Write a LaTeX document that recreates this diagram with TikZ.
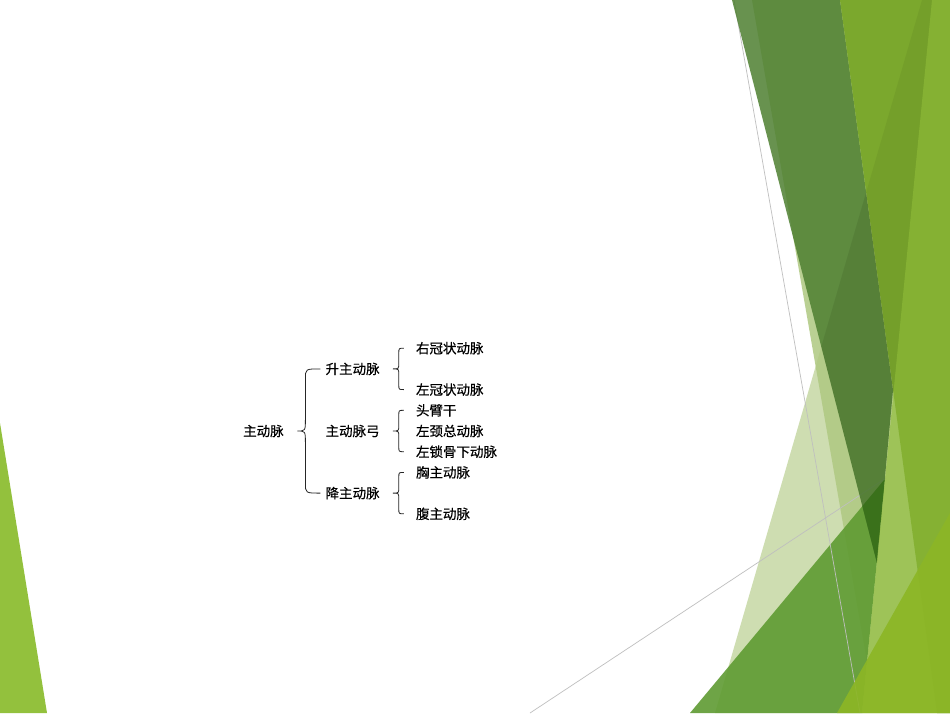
\documentclass[tikz,border=0pt]{standalone}
\usepackage{fontspec}
\newfontfamily\cjk[FakeBold=0.4]{Noto Sans CJK SC}
\usetikzlibrary{positioning, calc}

\definecolor{facetpale}{RGB}{206,221,177}
\definecolor{facetmist}{RGB}{175,200,129}
\definecolor{facetleaf}{RGB}{95,155,50}
\definecolor{facetforest}{RGB}{78,127,49}
\definecolor{facetdeep}{RGB}{63,122,30}
\definecolor{facetolive}{RGB}{123,168,45}
\definecolor{facetlime}{RGB}{140,185,55}
\definecolor{facetgrass}{RGB}{140,182,38}
\definecolor{facetside}{RGB}{147,193,61}
\definecolor{rulegray}{RGB}{191,191,191}

\begin{document}
\begin{tikzpicture}[
        x=1pt, y=-1pt,
        organ/.style={inner sep=0pt, anchor=west, text=black,
                      font=\cjk\fontsize{13.5}{16}\selectfont},
        fork/.style n args={5}{to path={
            ($(\tikztostart)+(-#1,0pt)$)
            .. controls ($(\tikztostart)+(-#2,0pt)$) .. ($(\tikztostart)+(-#2,-#4)$)
            -- ($(\tikztostart)!.5!(\tikztotarget)+(-#2,#5)$)
            .. controls ($(\tikztostart)!.5!(\tikztotarget)+(-#2,0pt)$) .. ($(\tikztostart)!.5!(\tikztotarget)+(-#3,0pt)$)
            .. controls ($(\tikztostart)!.5!(\tikztotarget)+(-#2,0pt)$) .. ($(\tikztostart)!.5!(\tikztotarget)+(-#2,-#5)$)
            -- ($(\tikztotarget)+(-#2,#4)$)
            .. controls ($(\tikztotarget)+(-#2,0pt)$) .. ($(\tikztotarget)+(-#1,0pt)$)}},
        bigfork/.style={fork={5pt}{20pt}{28pt}{10pt}{12pt}},
        smallfork/.style={fork={12pt}{17pt}{23pt}{5pt}{6pt}},
        brace/.style={draw=black!85, line width=0.8pt},
        rule/.style={draw=rulegray, line width=0.7pt}
    ]
        \fill[white] (0,0) rectangle (950,713);
        \useasboundingbox (0,0) rectangle (950,713);

        % facets on the right
        \fill[facetpale] (922,0) -- (950,0) -- (950,713) -- (715,713) -- cycle;
        \fill[facetmist, opacity=0.85] (752,0) -- (932,0) -- (867,662) -- cycle;
        \fill[facetleaf, opacity=0.9] (690,713) -- (885,479) -- (862,713) -- cycle;
        \draw[rule] (734,0) -- (860,713);
        \draw[rule] (530,713) -- (886,478);
        \fill[facetforest, opacity=0.85] (732,0) -- (840,0) -- (893,390) -- (877,563) -- cycle;
        \begin{scope}
            \clip (690,713) -- (885,479) -- (862,713) -- cycle;
            \fill[facetdeep] (732,0) -- (840,0) -- (893,390) -- (877,563) -- cycle;
        \end{scope}
        \fill[facetolive] (840,0) -- (950,0) -- (950,713) -- (937,713) -- cycle;
        \begin{scope}
            \clip (922,0) -- (950,0) -- (950,713) -- (715,713) -- cycle;
            \fill[black, opacity=0.07] (732,0) -- (840,0) -- (893,390) -- (877,563) -- cycle;
            \fill[black, opacity=0.05] (840,0) -- (950,0) -- (950,713) -- (937,713) -- cycle;
        \end{scope}
        \fill[facetlime, opacity=0.72] (932,0) -- (950,0) -- (950,713) -- (862,713) -- cycle;
        \fill[facetgrass, opacity=0.92] (950,513) -- (950,713) -- (837,713) -- cycle;

        % facet on the left
        \fill[facetside] (0,423) -- (47,713) -- (0,713) -- cycle;

        % aorta tree
        \node[organ] (aorta) at (243,431) {主动脉};
        \node[organ, right=41.5pt of aorta] (arch) {主动脉弓};
        \node[organ, above=62.1pt of arch.west, anchor=west] (ascend) {升主动脉};
        \node[organ, below=62.1pt of arch.west, anchor=west] (descend) {降主动脉};

        \node[organ, right=36pt of arch] (carotid) {左颈总动脉};
        \node[organ, above=20.7pt of carotid.west, anchor=west] (trunk) {头臂干};
        \node[organ, below=20.7pt of carotid.west, anchor=west] (subclavian) {左锁骨下动脉};
        \node[organ, above=20.7pt of trunk.west, anchor=west] (leftcor) {左冠状动脉};
        \node[organ, above=41.4pt of leftcor.west, anchor=west] (rightcor) {右冠状动脉};
        \node[organ, below=20.7pt of subclavian.west, anchor=west] (thoracic) {胸主动脉};
        \node[organ, below=41.4pt of thoracic.west, anchor=west] (abdominal) {腹主动脉};

        \draw[brace] (ascend.west) to[bigfork] (descend.west);
        \draw[brace] (rightcor.west) to[smallfork] (leftcor.west);
        \draw[brace] (trunk.west) to[smallfork] (subclavian.west);
        \draw[brace] (thoracic.west) to[smallfork] (abdominal.west);
    \end{tikzpicture}
\end{document}
